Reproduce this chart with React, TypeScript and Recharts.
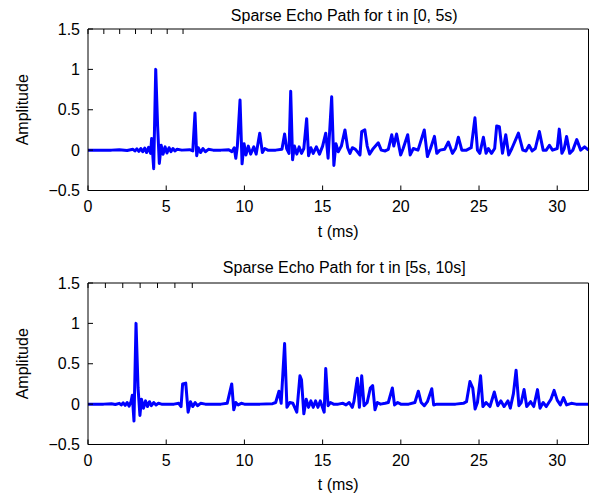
import { LineChart, Line, XAxis, YAxis } from 'recharts';

// echo path for t in [0, 5s): time (ms) / amplitude
const T1 = [
  0, 0.5, 1, 1.5, 2, 2.5, 2.875, 3, 3.125, 3.25, 3.375, 3.5, 3.625, 3.75, 3.875, 4,
  4.07, 4.2, 4.33, 4.45, 4.56, 4.68, 4.8, 4.93, 5.05, 5.18, 5.3, 5.43, 5.55, 5.7, 6,
  6.5, 6.7, 6.84, 6.95, 7.05, 7.2, 7.35, 7.5, 7.7, 8, 8.5, 9, 9.2, 9.35, 9.45, 9.55,
  9.72, 9.85, 9.98, 10.1, 10.25, 10.4, 10.6, 10.75, 10.98, 11.15, 11.3, 11.5, 12,
  12.4, 12.57, 12.7, 12.85, 12.96, 13.08, 13.2, 13.35, 13.5, 13.65, 13.8, 13.98,
  14.1, 14.25, 14.4, 14.6, 14.8, 15, 15.2, 15.35, 15.58, 15.72, 15.85, 16, 16.2,
  16.43, 16.6, 16.75, 16.9, 17.1, 17.39, 17.5, 17.7, 17.85, 18, 18.2, 18.56, 18.75,
  19, 19.2, 19.42, 19.55, 19.73, 19.99, 20.15, 20.44, 20.6, 20.8, 21.1, 21.5, 21.7,
  21.9, 22.15, 22.3, 22.5, 22.8, 23.04, 23.3, 23.5, 23.68, 23.9, 24.2, 24.5, 24.74,
  24.9, 25.05, 25.28, 25.45, 25.6, 25.8, 26, 26.13, 26.3, 26.5, 26.71, 26.9, 27.1,
  27.52, 27.8, 28, 28.2, 28.4, 28.6, 28.86, 29.1, 29.3, 29.5, 29.7, 30, 30.13, 30.3,
  30.45, 30.6, 30.8, 31, 31.25, 31.5, 31.75, 32,
];
const A1 = [
  0, 0, 0, 0, 0.005, -0.005, 0.01, -0.01, 0.015, -0.015, 0.02, -0.02, 0.025, -0.03, 0.035, -0.04,
  0.145, -0.23, 1.0, 0.3, -0.165, 0.06, -0.05, 0.04, -0.035, 0.03, -0.02, 0.02, -0.01, 0.01, 0,
  0.005, -0.01, 0.46, -0.07, 0.03, -0.03, 0.02, -0.02, 0.01, 0, 0, 0.005, -0.02, 0.03, -0.1, 0.05,
  0.62, -0.17, 0.08, -0.06, 0.05, -0.05, 0.04, -0.05, 0.21, -0.03, 0.02, 0, 0,
  0.01, 0.2, 0.02, -0.04, 0.73, -0.12, 0.05, -0.05, 0.04, -0.04, 0.02, 0.39,
  -0.07, 0.03, -0.04, 0.04, -0.05, 0.05, 0.21, -0.1, 0.66, -0.19, 0.08, -0.02, 0.05,
  0.25, 0.03, -0.04, 0.03, 0.01, -0.06, 0.23, 0.25, 0.05, -0.05, 0.01, 0.09, 0,
  -0.01, 0.01, 0.19, 0.05, 0.2, -0.06, 0.02, 0.19, -0.06, 0.02, 0, 0.25, -0.08,
  0.02, 0.17, -0.04, 0, 0.01, 0.1, -0.04, 0.02, 0.16, 0, 0, 0.03, 0.4,
  0, -0.04, 0.16, -0.04, 0.02, -0.04, 0.02, 0.3, 0.29, -0.04, 0.19, -0.06, 0.02,
  0.21, 0, -0.01, 0.06, -0.01, 0.02, 0.23, 0, 0, 0.06, 0, 0.02, 0.26, -0.04,
  0.02, 0.17, -0.04, 0, 0.13, 0, 0.04, 0,
];

// echo path for t in [5s, 10s]
const T2 = [
  0, 0.5, 1, 1.5, 1.75, 2, 2.125, 2.25, 2.375, 2.5, 2.625, 2.75, 2.83, 2.94, 3.07,
  3.2, 3.32, 3.42, 3.55, 3.68, 3.8, 3.93, 4.05, 4.2, 4.35, 4.5, 4.7, 5, 5.5, 5.8,
  5.95, 6.05, 6.25, 6.4, 6.55, 6.7, 6.85, 7, 7.2, 7.5, 8, 8.5, 8.9, 9.19, 9.32,
  9.45, 9.6, 9.8, 10, 11, 11.8, 12, 12.21, 12.35, 12.57, 12.72, 12.9, 13.1, 13.35,
  13.55, 13.65, 13.8, 13.95, 14.1, 14.25, 14.4, 14.55, 14.7, 14.85, 15.1, 15.2,
  15.35, 15.5, 15.7, 16, 16.3, 16.5, 16.7, 16.9, 17, 17.22, 17.35, 17.5, 17.65,
  17.85, 18.05, 18.2, 18.35, 18.5, 18.7, 19, 19.2, 19.46, 19.6, 19.8, 20, 20.5,
  20.9, 21.12, 21.3, 21.5, 21.7, 21.98, 22.1, 22.3, 23, 23.5, 24, 24.2, 24.42,
  24.6, 24.75, 24.9, 25.1, 25.25, 25.45, 25.7, 25.98, 26.2, 26.4, 26.6, 26.85, 27,
  27.2, 27.37, 27.55, 27.7, 27.88, 28.05, 28.3, 28.5, 28.74, 28.9, 29.1, 29.3, 29.6,
  29.8, 30, 30.2, 30.4, 30.6, 30.9, 31.2, 31.6, 32,
];
const A2 = [
  0, 0, 0, 0.005, -0.005, 0.01, -0.01, 0.015, -0.015, 0.02, -0.025, 0.03, 0.11, -0.21, 1.0,
  0.2, -0.14, 0.06, -0.05, 0.04, -0.03, 0.03, -0.02, 0.02, -0.01, 0.01, 0, 0, 0, 0.01,
  -0.03, 0.25, 0.26, -0.1, 0.03, -0.03, 0.02, -0.02, 0.01, 0, 0, 0, 0.01, 0.25, -0.07,
  0.02, -0.01, 0.01, 0, 0, 0.005, 0.02, 0.16, 0.01, 0.75, -0.04, 0.02, 0.01, -0.1,
  0.35, 0.3, -0.12, 0.06, -0.04, 0.04, -0.04, 0.04, -0.04, 0.04, -0.1, 0.44,
  -0.02, 0.02, 0, 0, 0.01, -0.01, 0.02, -0.04, 0.03, 0.32, -0.04, 0.35, -0.02,
  0.02, 0.2, 0.23, -0.07, 0.02, 0, 0.01, 0.02, 0.2, -0.01, 0.02, 0, 0,
  0.02, 0.16, 0.02, -0.02, 0.03, 0.19, -0.01, 0, 0, 0, 0.01, 0.03, 0.28,
  0.2, -0.06, 0.02, 0.35, -0.03, 0.02, -0.03, 0.15, -0.02, 0.04, -0.03, 0.04, -0.05,
  0.13, 0.42, -0.02, 0.02, 0.18, -0.03, 0.03, -0.03, 0.18, -0.05, 0.02, -0.03, 0.06,
  0.17, 0.05, -0.01, 0.08, -0.01, 0.01, 0, 0, 0,
];

const X_TICKS = [0, 5, 10, 15, 20, 25, 30];
const Y_TICKS = [-0.5, 0, 0.5, 1, 1.5];
const TITLES = ['Sparse Echo Path for t in [0, 5s)', 'Sparse Echo Path for t in [5s, 10s]'];

const FONT = 'Liberation Sans, Arial, sans-serif';
const FS = 16;
const fmt = (v: number) => (v < 0 ? '\u2212' + Math.abs(v) : String(v));

const BottomTick = ({ x, y, payload }: any) => (
  <g>
    <line x1={x} y1={y} x2={x} y2={y - 5} stroke="#000" />
    <text x={x} y={y + 21.5} textAnchor="middle" fontSize={FS} fontFamily={FONT} fill="#000">
      {fmt(payload.value)}
    </text>
  </g>
);
const TopTick = ({ x, y }: any) => <line x1={x} y1={y} x2={x} y2={y + 5} stroke="#000" />;
const LeftTick = ({ x, y, payload }: any) => (
  <g>
    <line x1={x} y1={y} x2={x + 5} y2={y} stroke="#000" />
    <text x={x - 8} y={y + 5.5} textAnchor="end" fontSize={FS} fontFamily={FONT} fill="#000">
      {fmt(payload.value)}
    </text>
  </g>
);
const RightTick = ({ x, y }: any) => <line x1={x} y1={y} x2={x - 5} y2={y} stroke="#000" />;

function EchoPlot({ data, title, top, bottom, titleOffset, labelOffset }: any) {
  return (
    <LineChart
      width={607}
      height={250}
      data={data}
      margin={{ top, right: 17.5, bottom, left: 0 }}
    >
      <XAxis
        dataKey="t"
        type="number"
        domain={[0, 32]}
        ticks={X_TICKS}
        interval={0}
        height={50}
        tickSize={0}
        tickMargin={0}
        tickLine={false}
        tick={<BottomTick />}
        stroke="#000"
        label={{ value: 't (ms)', position: 'insideBottom', offset: labelOffset, fontSize: FS, fontFamily: FONT, fill: '#000' }}
      />
      <XAxis
        xAxisId="top"
        orientation="top"
        type="number"
        domain={[0, 32]}
        ticks={X_TICKS}
        interval={0}
        height={1}
        tickSize={0}
        tickMargin={0}
        tickLine={false}
        tick={<TopTick />}
        stroke="#000"
        label={{ value: title, position: 'top', offset: titleOffset, dx: 6, fontSize: FS, fontFamily: FONT, fill: '#000' }}
      />
      <YAxis
        type="number"
        domain={[-0.5, 1.5]}
        ticks={Y_TICKS}
        interval={0}
        width={88}
        tickSize={0}
        tickMargin={0}
        tickLine={false}
        tick={<LeftTick />}
        stroke="#000"
        label={{ value: 'Amplitude', angle: -90, position: 'insideLeft', offset: 22, fontSize: FS, fontFamily: FONT, fill: '#000', style: { textAnchor: 'middle' } }}
      />
      <YAxis
        yAxisId="right"
        orientation="right"
        type="number"
        domain={[-0.5, 1.5]}
        ticks={Y_TICKS}
        interval={0}
        width={1}
        tickSize={0}
        tickMargin={0}
        tickLine={false}
        tick={<RightTick />}
        stroke="#000"
      />
      <Line
        dataKey="a"
        type="linear"
        stroke="#0000ff"
        strokeWidth={3}
        strokeLinejoin="round"
        dot={false}
        isAnimationActive={false}
      />
    </LineChart>
  );
}

export default function App() {
  const data1 = T1.map((t, i) => ({ t, a: A1[i] }));
  const data2 = T2.map((t, i) => ({ t, a: A2[i] }));
  return (
    <div style={{ position: 'absolute', left: 0, top: 0, width: 607, height: 500, background: '#fff' }}>
      <EchoPlot data={data1} title={TITLES[0]} top={28} bottom={9.5} titleOffset={7} labelOffset={3.8} />
      <EchoPlot data={data2} title={TITLES[1]} top={32} bottom={5.5} titleOffset={9.5} labelOffset={5} />
    </div>
  );
}
